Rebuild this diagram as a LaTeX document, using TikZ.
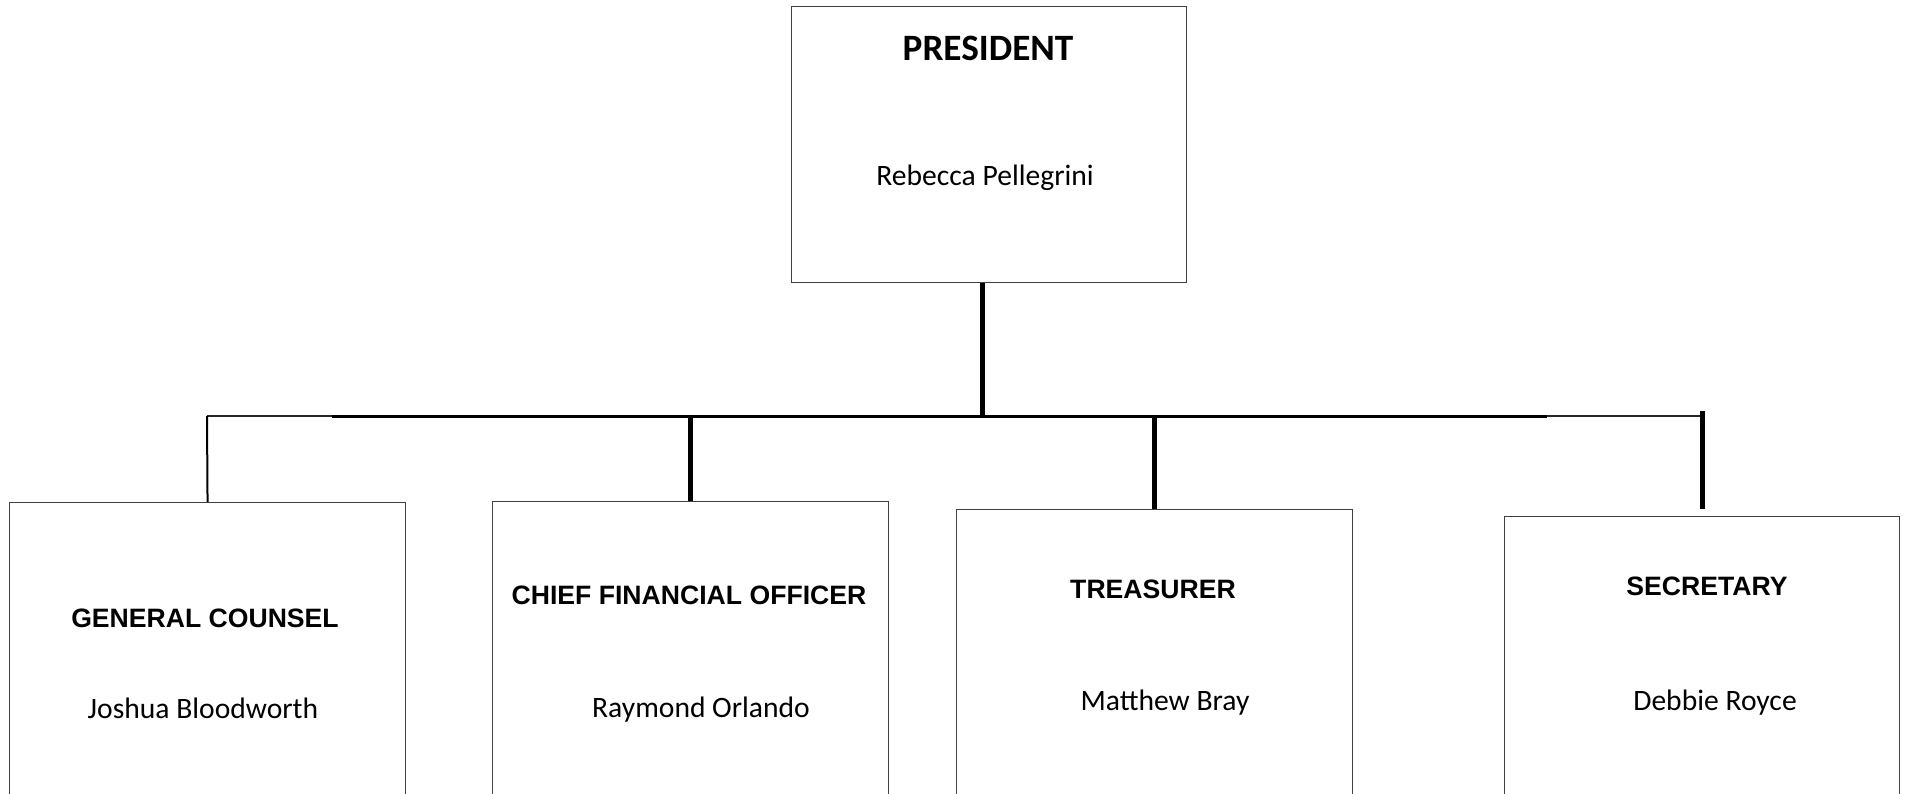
\documentclass[tikz,border=0pt]{standalone}
\usepackage{fontspec}
\setmainfont{Carlito}
\newfontfamily\arialfont{Liberation Sans}
\begin{document}
\begin{tikzpicture}[x=1pt,y=-1pt,
  box/.style={draw=black!75,line width=1.1pt,anchor=north west,inner sep=0pt,
    minimum width=#1,minimum height=300pt},
  rtitle/.style={anchor=base,inner sep=0pt,font=\arialfont\fontsize{26.6}{31}\selectfont\bfseries},
  pname/.style={anchor=base,inner sep=0pt,font=\fontsize{29.6}{34}\selectfont},
  thinlink/.style={line width=2pt,black},
  thicklink/.style={line width=5pt,black}]
\clip (0,0) rectangle (1907,793);
\useasboundingbox (0,0) rectangle (1907,793);
% boxes
\node[box=395pt,minimum height=276pt] (pres) at (791,6) {};
\node[box=396pt] (gc) at (9,502) {};
\node[box=396pt] (cfo) at (492,501) {};
\node[box=396pt] (tr) at (956,509) {};
\node[box=395pt] (sec) at (1504,516) {};
% texts
\node[anchor=base,inner sep=0pt,font=\fontsize{37.2}{44}\selectfont\bfseries] (presT) at (988,60) {PRESIDENT};
\node[pname] (presN) at (985,185) {Rebecca Pellegrini};
\node[rtitle] (gcT) at (205,627) {GENERAL COUNSEL};
\node[pname] (gcN) at (203,718) {Joshua Bloodworth};
\node[rtitle] (cfoT) at (689,604) {CHIEF FINANCIAL OFFICER};
\node[pname] (cfoN) at (701,717) {Raymond Orlando};
\node[rtitle] (trT) at (1153,598) {TREASURER};
\node[pname] (trN) at (1165,710) {Matthew Bray};
\node[rtitle] (secT) at (1707,595) {SECRETARY};
\node[pname] (secN) at (1715,710) {Debbie Royce};
% bus
\coordinate (busL) at (207,416);
\coordinate (busR) at (1702,416);
\coordinate (busTL) at (332,416);
\coordinate (busTR) at (1547,416);
\coordinate (pstem) at (982,416);
\coordinate (secTop) at (1702,411);
\coordinate (secBot) at (1702,509);
\draw[line width=2pt,black!85] (busL) -- (busR);
\draw[line width=3pt] (busTL) -- (busTR);
\draw[thicklink] (pstem) -- (pstem |- pres.south);
\draw[thinlink] (busL) -- (gc.north);
\draw[thicklink] (cfo.north) -- (cfo.north |- busL);
\draw[thicklink] (tr.north) -- (tr.north |- busL);
\draw[thicklink] (secTop) -- (secBot);
\end{tikzpicture}
\end{document}
